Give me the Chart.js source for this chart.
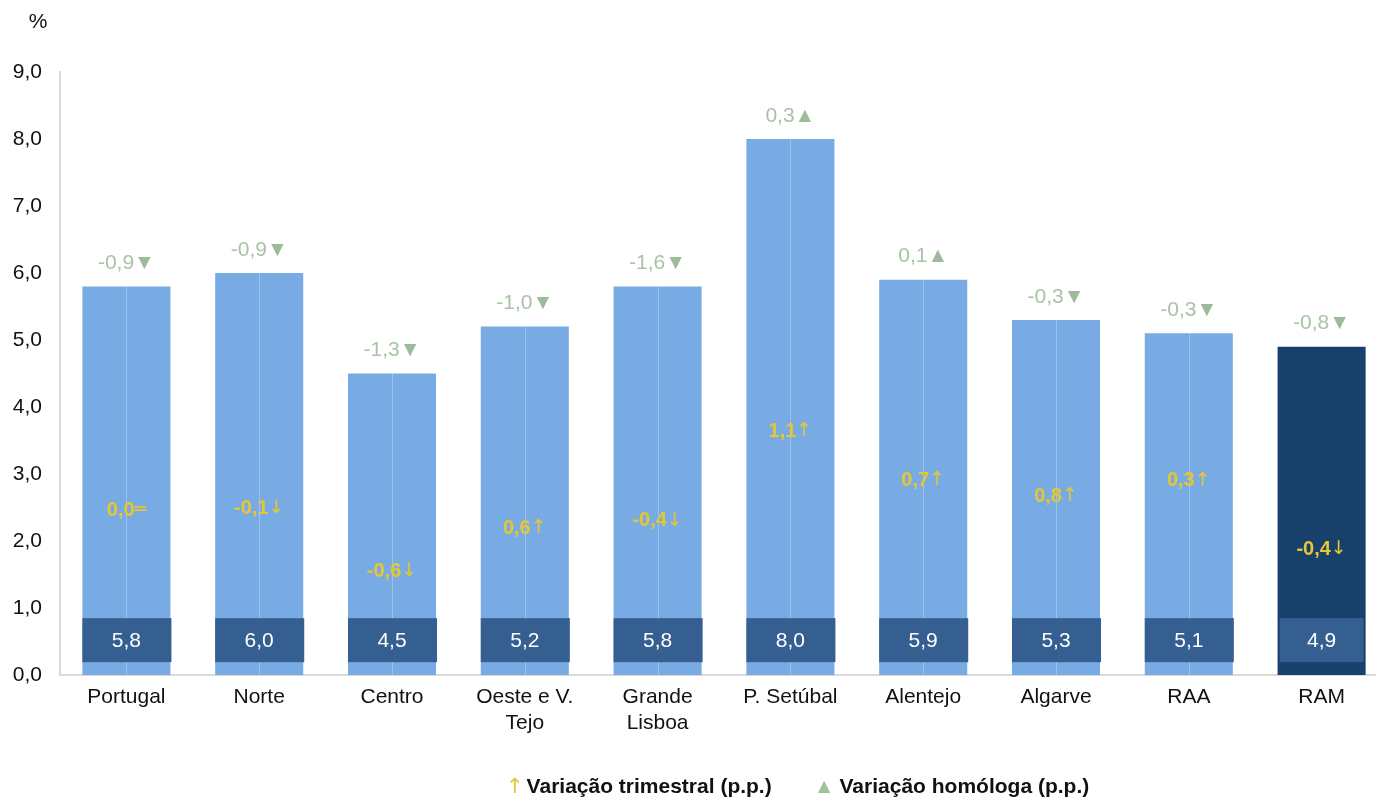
<!DOCTYPE html>
<html>
<head>
<meta charset="utf-8">
<script src="https://cdn.jsdelivr.net/npm/chart.js@4/dist/chart.umd.min.js"></script>
<style>
  body { margin: 0; overflow: hidden; background: #fff; font-family: "Liberation Sans", Arial, sans-serif; }
  #wrap { position: relative; width: 1390px; height: 798px; }
  .legend { position: absolute; top: 774px; left: 506px; font-weight: bold; font-size: 21px; color: #111; white-space: nowrap; }
  .legend .arr { color: #e5c536; font-weight: normal; font-family: "DejaVu Sans", sans-serif; margin-right: 3px; }
  .legend .tri { color: #a2bf9f; font-weight: normal; margin-left: 42px; margin-right: 5px; }
</style>
</head>
<body>
<div id="wrap">
  <canvas id="chart" width="1390" height="798"></canvas>
  <div class="legend"><span class="arr">↑</span>Variação trimestral (p.p.)<span class="tri">▲</span>Variação homóloga (p.p.)</div>
</div>
<script>
  const regions = ["Portugal", "Norte", "Centro", ["Oeste e V.", "Tejo"], ["Grande", "Lisboa"], "P. Setúbal", "Alentejo", "Algarve", "RAA", "RAM"];
  const rate = [5.8, 6.0, 4.5, 5.2, 5.8, 8.0, 5.9, 5.3, 5.1, 4.9];
  const yearChange = [-0.9, -0.9, -1.3, -1.0, -1.6, 0.3, 0.1, -0.3, -0.3, -0.8];
  const quarterChange = [0.0, -0.1, -0.6, 0.6, -0.4, 1.1, 0.7, 0.8, 0.3, -0.4];
  // where the quarterly label sits inside each bar (axis units)
  const quarterLabelAt = [2.46, 2.49, 1.55, 2.19, 2.3, 3.64, 2.91, 2.67, 2.9, 1.88];
  const yTicks = [0, 1, 2, 3, 4, 5, 6, 7, 8, 9];

  const fmt = v => v.toFixed(1).replace(".", ",");
  const font = "'Liberation Sans', Arial, sans-serif";
  const arrowFont = "'DejaVu Sans', sans-serif";

  function drawPair(ctx, x, y, a, aFont, aColor, b, bFont, bColor) {
    ctx.font = aFont;
    const wa = ctx.measureText(a).width;
    ctx.font = bFont;
    const wb = ctx.measureText(b).width;
    let start = x - (wa + wb) / 2;
    ctx.textAlign = "left";
    ctx.textBaseline = "middle";
    ctx.font = aFont;
    ctx.fillStyle = aColor;
    ctx.fillText(a, start, y);
    ctx.font = bFont;
    ctx.fillStyle = bColor;
    ctx.fillText(b, start + wa, y);
  }

  const labelsPlugin = {
    id: "labels",
    afterDatasetsDraw(chart) {
      const ctx = chart.ctx;
      const y = chart.scales.y;
      const meta = chart.getDatasetMeta(0);
      ctx.save();
      meta.data.forEach((bar, i) => {
        const last = i === rate.length - 1;
        const left = bar.x - bar.width / 2;
        // thin line down the middle of the light bars
        if (!last) {
          ctx.strokeStyle = "rgba(255,255,255,0.28)";
          ctx.lineWidth = 1;
          ctx.beginPath();
          ctx.moveTo(Math.round(bar.x) + 0.5, bar.y);
          ctx.lineTo(Math.round(bar.x) + 0.5, bar.base);
          ctx.stroke();
        }
        // value box
        const cy = y.getPixelForValue(0.52);
        ctx.fillStyle = "#355f91";
        if (last) ctx.fillRect(left + 2, cy - 22, bar.width - 4, 44);
        else ctx.fillRect(left, cy - 22, bar.width + 1, 44);
        ctx.fillStyle = "#fff";
        ctx.font = "21px " + font;
        ctx.textAlign = "center";
        ctx.textBaseline = "middle";
        ctx.fillText(fmt(rate[i]), bar.x, cy + 1);

        // year-on-year change above the bar
        const yc = yearChange[i];
        drawPair(ctx, bar.x, bar.y - 23,
          fmt(yc), "21px " + font, "#a8c3a5",
          yc >= 0 ? "▲" : "▼", "21px " + font, "#9dbb9a");

        // quarterly change inside the bar
        const qc = quarterChange[i];
        const arrow = qc > 0 ? "↑" : (qc < 0 ? "↓" : "═");
        drawPair(ctx, bar.x, y.getPixelForValue(quarterLabelAt[i]),
          fmt(qc), "bold 20px " + font, "#e6c633",
          arrow, "19px " + arrowFont, "#e6c633");
      });
      // unit
      ctx.fillStyle = "#111";
      ctx.font = "21px " + font;
      ctx.textAlign = "center";
      ctx.textBaseline = "middle";
      ctx.fillText("%", 38, 22);
      ctx.restore();
    }
  };

  new Chart(document.getElementById("chart"), {
    type: "bar",
    data: {
      labels: regions,
      datasets: [{
        data: rate,
        backgroundColor: rate.map((v, i) => i === rate.length - 1 ? "#17406b" : "#78abe3"),
        categoryPercentage: 1,
        barPercentage: 0.663
      }]
    },
    options: {
      responsive: false,
      animation: false,
      layout: { padding: { top: 72, right: 2, bottom: 0, left: 0 } },
      plugins: { legend: { display: false }, tooltip: { enabled: false } },
      scales: {
        x: {
          grid: { display: false, drawTicks: false },
          border: { display: true, color: "#d9d9d9", width: 2 },
          ticks: { color: "#111", font: { size: 21, family: font, lineHeight: 1.2 }, padding: 10, maxRotation: 0, autoSkip: false },
          afterFit: s => { s.height = 123; }
        },
        y: {
          min: 0,
          max: 9,
          afterBuildTicks: s => { s.ticks = yTicks.map(v => ({ value: v })); },
          grid: { display: false, drawTicks: false },
          border: { display: true, color: "#d9d9d9", width: 2 },
          ticks: { color: "#111", font: { size: 21, family: font }, padding: 18, callback: v => fmt(v) },
          afterFit: s => { s.width = 60; }
        }
      }
    },
    plugins: [labelsPlugin]
  });
</script>
</body>
</html>
